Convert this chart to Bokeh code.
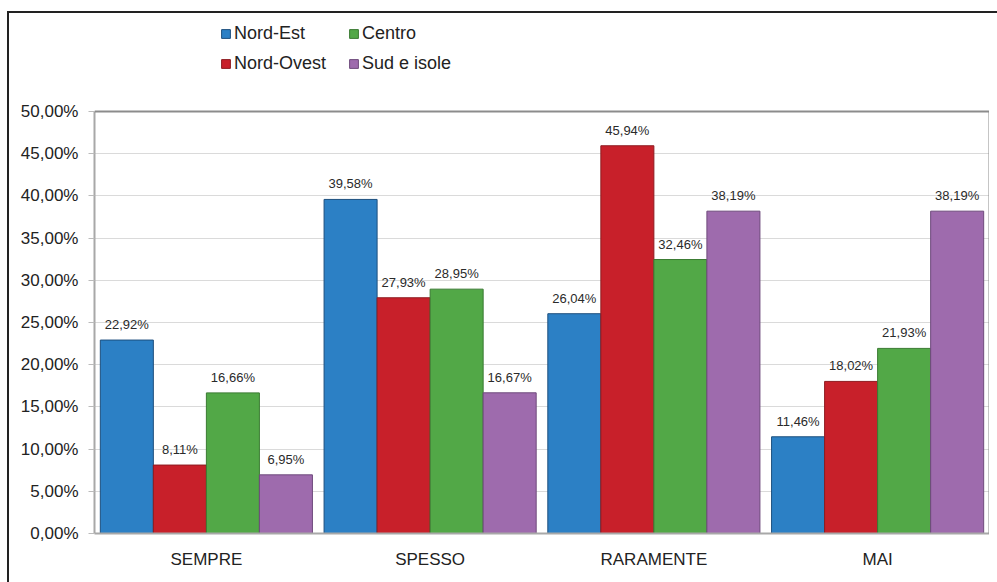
from bokeh.plotting import figure
from bokeh.models import (ColumnDataSource, FactorRange, Range1d, Legend, LegendItem,
                          FixedTicker, InlineStyleSheet, LinearAxis, Span)
from bokeh.transform import dodge
from bokeh.embed import file_html
from bokeh.resources import INLINE

categories = ["SEMPRE", "SPESSO", "RARAMENTE", "MAI"]
series_names = ["Nord-Est", "Nord-Ovest", "Centro", "Sud e isole"]
nord_est = [22.92, 39.58, 26.04, 11.46]
nord_ovest = [8.11, 27.93, 45.94, 18.02]
centro = [16.66, 28.95, 32.46, 21.93]
sud_isole = [6.95, 16.67, 38.19, 38.19]
y_ticks = [0, 5, 10, 15, 20, 25, 30, 35, 40, 45, 50]
y_tick_labels = ["0,00%", "5,00%", "10,00%", "15,00%", "20,00%", "25,00%",
                 "30,00%", "35,00%", "40,00%", "45,00%", "50,00%"]

fill_colors = ["#2C80C5", "#C8202A", "#52A847", "#9E6BAD"]
line_colors = ["#1D4F7E", "#8E1B20", "#3A7A32", "#6E4A7C"]
FONT = "Liberation Sans"

W, H = 989, 574
Y_MAX = 50.0        # top of the value axis
Y_VIEW = 63.15      # visible range incl. the legend band above the plot area
p = figure(width=W, height=H, x_range=FactorRange(*categories, range_padding=0),
           y_range=Range1d(0, Y_VIEW), output_backend="svg", toolbar_location=None,
           min_border_left=94, min_border_right=0, min_border_top=0, min_border_bottom=41)

data = dict(cat=categories, ne=nord_est, no=nord_ovest, ce=centro, si=sud_isole)
keys = ["ne", "no", "ce", "si"]
for k, vals in zip(keys, [nord_est, nord_ovest, centro, sud_isole]):
    data[k + "_lab"] = [f"{v:.2f}".replace(".", ",") + "%" for v in vals]
src = ColumnDataSource(data)

bw = 0.237
offsets = [-1.5 * bw, -0.5 * bw, 0.5 * bw, 1.5 * bw]
renderers = []
for k, off, fc, lc in zip(keys, offsets, fill_colors, line_colors):
    r = p.vbar(x=dodge("cat", off, range=p.x_range), top=k, width=bw, source=src,
               fill_color=fc, line_color=lc, line_width=1)
    renderers.append(r)
    p.text(x=dodge("cat", off, range=p.x_range), y=k, text=k + "_lab", source=src,
           text_align="center", text_baseline="bottom", y_offset=-8,
           text_font_size="13px", text_color="#2a2a2a", text_font={"value": FONT})

# left value axis
p.yaxis.ticker = FixedTicker(ticks=y_ticks)
p.yaxis.bounds = (0, Y_MAX)
p.yaxis.major_label_overrides = {t: l for t, l in zip(y_ticks, y_tick_labels)}
p.yaxis.minor_tick_line_color = None
p.yaxis.major_tick_in = 0
p.yaxis.major_tick_out = 6
p.yaxis.major_tick_line_color = "#BBBBBB"
p.yaxis.axis_line_color = "#A8A8A8"
p.yaxis.axis_line_width = 2
p.yaxis.major_label_text_font_size = "17px"
p.yaxis.major_label_text_color = "#222222"
p.yaxis.major_label_text_font = FONT
p.yaxis.major_label_standoff = 10

# right edge of the plot area
right_axis = LinearAxis(ticker=FixedTicker(ticks=[]), bounds=(0, Y_MAX),
                        axis_line_color="#8C8C8C", axis_line_width=2,
                        major_tick_line_color=None, minor_tick_line_color=None,
                        major_tick_in=0, major_tick_out=0,
                        major_label_text_font_size="0px", major_label_standoff=0)
p.add_layout(right_axis, "right")

# top edge of the plot area
p.add_layout(Span(location=Y_MAX, dimension="width", line_color="#8C8C8C", line_width=2))

p.xaxis.major_tick_line_color = None
p.xaxis.axis_line_color = "#A8A8A8"
p.xaxis.axis_line_width = 2
p.xaxis.major_label_text_font_size = "17px"
p.xaxis.major_label_text_color = "#222222"
p.xaxis.major_label_text_font = FONT
p.xaxis.major_label_standoff = 10

p.xgrid.grid_line_color = None
p.ygrid.grid_line_color = "#DADADA"
p.ygrid.grid_line_width = 1
p.outline_line_color = None

# legend: two rows, aligned columns
for idx, vy in [((0, 2), 489), ((1, 3), 459)]:
    items = [LegendItem(label=series_names[i], renderers=[renderers[i]]) for i in idx]
    lg = Legend(items=items, orientation="horizontal", location=(126, vy),
                glyph_width=11, glyph_height=11, label_standoff=3, label_width=105,
                spacing=9, padding=0, margin=0, label_height=20,
                label_text_font_size="18px", label_text_color="#222222", label_text_font=FONT,
                border_line_color=None, background_fill_alpha=0)
    p.add_layout(lg)

# outer chart frame (left and top edges visible)
p.stylesheets = [InlineStyleSheet(css="""
:host::after { content: ""; position: fixed; left: 7px; top: 11px; right: -20px; bottom: -20px;
  border-left: 2px solid #222; border-top: 2px solid #222; pointer-events: none; }
""")]

open("out.html", "w").write(file_html(p, INLINE))
